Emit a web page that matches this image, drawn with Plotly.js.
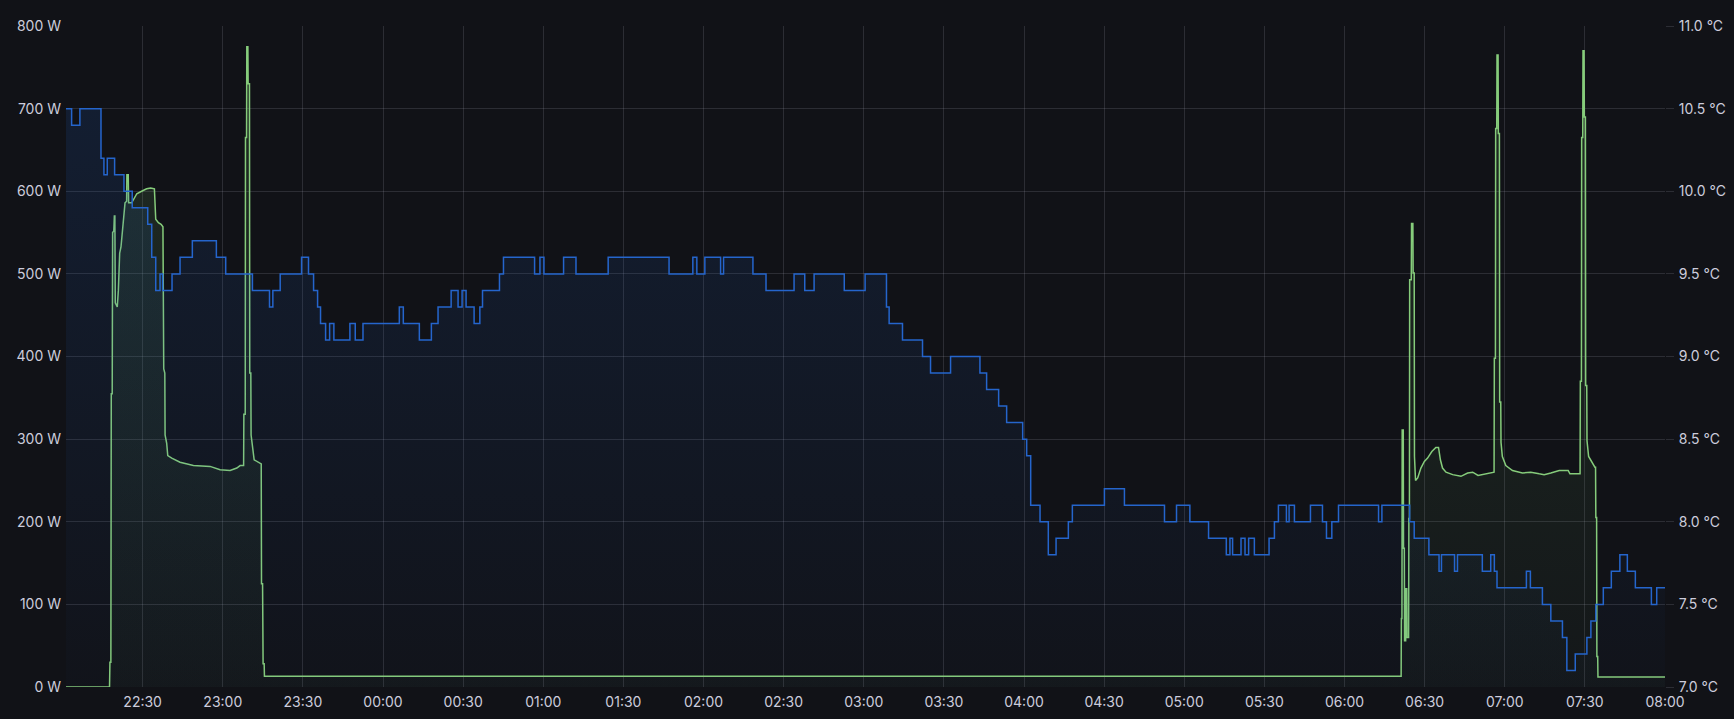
<!DOCTYPE html>
<html>
<head>
<meta charset="utf-8">
<script src="https://cdn.plot.ly/plotly-3.0.1.min.js"></script>
<style>
  html, body { margin: 0; padding: 0; background: #111217; }
  #chart { width: 1734px; height: 719px; }
</style>
</head>
<body>
<div id="chart"></div>
<script>
// Time is given as minutes after 22:00 of the first evening
const rangeStartMin = 1.3;
const rangeEndMin = 600;

// Temperature (°C, right axis) — step series
const tempMinutes = [1.3, 3.4, 6.5, 14.4, 15.5, 16.75, 19.5, 23, 26.1, 31.9, 33.4, 34.9, 36.5, 37.5, 41, 44, 48.6, 57.6, 61.1, 71.1, 77.5, 78.75, 81.5, 89.5, 92.1, 94, 95.5, 96.6, 98.5, 100, 101.6, 107.6, 109.6, 112.5, 126.1, 127.6, 133.6, 138.1, 140.6, 145.5, 148.1, 149.6, 151.1, 154.1, 156.25, 157.25, 163.6, 165.1, 176.75, 178.75, 180.25, 187.6, 192.25, 204.3, 227.1, 236, 237.5, 240.5, 246.4, 247.5, 258.5, 263.4, 273.9, 277.9, 281.4, 292.7, 300.5, 308.5, 309.5, 314.5, 322, 325, 332.5, 343.5, 346, 350.5, 353.5, 359.5, 361, 362.5, 366, 369.1, 372, 376.6, 378.1, 390.1, 397.6, 412.6, 417.1, 422.1, 429.1, 435.75, 437.1, 438.1, 441.25, 442.75, 444.1, 446.25, 451.75, 453.75, 455.25, 458.25, 459.25, 461.25, 467.25, 471.75, 473.25, 475.25, 477.75, 492.75, 494.0, 504.4, 506.1, 511.6, 515.4, 516.3, 521.2, 522.3, 531.6, 534.75, 536.1, 537.1, 548.1, 549.6, 554.1, 557.25, 561.6, 563.25, 566.4, 570.75, 572.25, 574.1, 576.9, 579.9, 583.1, 585.9, 588.9, 594.9, 596.9, 600];
const tempValues = [10.5, 10.4, 10.5, 10.2, 10.1, 10.2, 10.1, 10.0, 9.9, 9.8, 9.6, 9.4, 9.5, 9.4, 9.5, 9.6, 9.7, 9.6, 9.5, 9.4, 9.3, 9.4, 9.5, 9.6, 9.5, 9.4, 9.3, 9.2, 9.1, 9.2, 9.1, 9.2, 9.1, 9.2, 9.3, 9.2, 9.1, 9.2, 9.3, 9.4, 9.3, 9.4, 9.3, 9.2, 9.3, 9.4, 9.5, 9.6, 9.5, 9.6, 9.5, 9.6, 9.5, 9.6, 9.5, 9.6, 9.5, 9.6, 9.5, 9.6, 9.5, 9.4, 9.5, 9.4, 9.5, 9.4, 9.5, 9.3, 9.2, 9.1, 9.0, 8.9, 9.0, 8.9, 8.8, 8.7, 8.6, 8.5, 8.4, 8.1, 8.0, 7.8, 7.9, 8.0, 8.1, 8.2, 8.1, 8.0, 8.1, 8.0, 7.9, 7.8, 7.9, 7.8, 7.9, 7.8, 7.9, 7.8, 7.9, 8.0, 8.1, 8.0, 8.1, 8.0, 8.1, 8.0, 7.9, 8.0, 8.1, 8.0, 8.1, 8.0, 7.9, 7.8, 7.7, 7.8, 7.7, 7.8, 7.7, 7.8, 7.7, 7.6, 7.7, 7.6, 7.5, 7.4, 7.3, 7.1, 7.2, 7.3, 7.4, 7.5, 7.6, 7.7, 7.8, 7.7, 7.6, 7.5, 7.6, 7.6];

// Power (W, left axis)
const powerMinutes = [1.3, 17.6, 17.75, 18.1, 18.25, 18.6, 18.75, 19.2, 19.4, 19.6, 19.75, 20.5, 20.9, 21.4, 21.9, 22.4, 22.9, 23.4, 24.0, 24.1, 24.6, 24.75, 25.9, 26.5, 27.8, 29.6, 31.5, 33.0, 34.4, 34.9, 35.9, 36.9, 37.6, 37.9, 38.3, 38.4, 39.0, 39.4, 40.9, 44, 49, 55.25, 59, 62.75, 65.25, 66.5, 67.8, 67.9, 68.4, 68.5, 68.9, 69.0, 69.4, 69.5, 70.0, 70.1, 70.5, 70.6, 71.1, 71.75, 74.4, 74.5, 74.9, 75.1, 75.5, 75.6, 150, 250, 350, 450, 501.2, 501.3, 501.5, 501.6, 502.0, 502.1, 502.4, 502.5, 502.9, 503.0, 503.3, 503.4, 504.0, 504.1, 504.3, 504.4, 505.0, 505.1, 505.6, 505.7, 506.1, 506.2, 506.6, 507.4, 508.6, 509.9, 511.1, 512.7, 514.2, 515.2, 515.9, 516.7, 518, 520.5, 523.6, 526.1, 528, 530, 532.9, 535.4, 536.0, 536.1, 536.5, 536.6, 537.0, 537.1, 537.5, 537.6, 538.0, 538.1, 538.5, 538.6, 539.1, 540.4, 542.9, 546.6, 549.75, 552.9, 554.75, 557.25, 560.4, 563.75, 564.4, 568.2, 568.3, 568.7, 568.8, 569.2, 569.3, 569.7, 569.8, 570.2, 570.3, 570.7, 570.8, 571.4, 572.9, 573.75, 574.0, 574.1, 574.4, 574.5, 574.8, 574.9, 600];
const powerValues = [0, 0, 30, 30, 355, 355, 550, 552, 570, 570, 465, 460, 480, 525, 533, 552, 570, 586, 588, 620, 620, 586, 586, 590, 597, 600, 603, 604, 603, 566, 562, 560, 557, 385, 380, 305, 295, 280, 277, 272, 268, 267, 263, 262, 265, 268, 268, 330, 330, 665, 665, 775, 775, 730, 730, 380, 380, 305, 290, 275, 270, 125, 125, 28, 28, 13, 13, 13, 13, 13, 13, 83, 83, 311, 311, 168, 168, 56, 56, 119, 119, 60, 60, 204, 204, 493, 493, 561, 561, 501, 501, 279, 250, 253, 265, 273, 277, 285, 290, 290, 275, 265, 260, 257, 255, 259, 260, 256, 258, 260, 260, 398, 398, 676, 676, 765, 765, 670, 670, 345, 345, 296, 279, 268, 262, 259, 260, 258, 257, 259, 262, 262, 258, 258, 370, 370, 665, 665, 770, 770, 690, 690, 365, 365, 298, 279, 270, 266, 266, 205, 205, 37, 37, 12, 12];

const powerTicks = [0, 100, 200, 300, 400, 500, 600, 700, 800];
const tempTicks = [7.0, 7.5, 8.0, 8.5, 9.0, 9.5, 10.0, 10.5, 11.0];

const BASE = Date.UTC(2023, 0, 1, 22, 0, 0);
function toDate(m) {
  const d = new Date(BASE + Math.round(m * 60000));
  const p = n => String(n).padStart(2, '0');
  return d.getUTCFullYear() + '-' + p(d.getUTCMonth() + 1) + '-' + p(d.getUTCDate()) + ' ' +
         p(d.getUTCHours()) + ':' + p(d.getUTCMinutes()) + ':' + p(d.getUTCSeconds());
}

const textColor = 'rgb(204,204,220)';
const gridColor = 'rgba(204,204,220,0.15)';
const tickFont = { family: 'Inter, "Open Sans", sans-serif', size: 14, color: textColor };

const tempTrace = {
  x: tempMinutes.map(toDate),
  y: tempValues,
  yaxis: 'y2',
  type: 'scatter',
  mode: 'lines',
  line: { color: '#2565CC', width: 1.5, shape: 'hv' },
  fill: 'tozeroy',
  fillgradient: {
    type: 'vertical',
    start: 7, stop: 11,
    colorscale: [[0, 'rgba(31,96,196,0.02)'], [1, 'rgba(31,96,196,0.17)']]
  },
  hoverinfo: 'skip'
};

const powerTrace = {
  x: powerMinutes.map(toDate),
  y: powerValues,
  yaxis: 'y',
  type: 'scatter',
  mode: 'lines',
  line: { color: '#86CC7B', width: 1.5 },
  fill: 'tozeroy',
  fillgradient: {
    type: 'vertical',
    start: 0, stop: 800,
    colorscale: [[0, 'rgba(115,191,105,0.03)'], [1, 'rgba(115,191,105,0.16)']]
  },
  hoverinfo: 'skip'
};

const layout = {
  width: 1734,
  height: 719,
  paper_bgcolor: '#111217',
  plot_bgcolor: '#111217',
  margin: { l: 66, r: 69, t: 26, b: 32, pad: 0 },
  showlegend: false,
  font: { family: 'Inter, "Open Sans", sans-serif', size: 14, color: textColor },
  xaxis: {
    type: 'date',
    range: [toDate(rangeStartMin), toDate(rangeEndMin)],
    tick0: toDate(30),
    dtick: 1800000,
    tickformat: '%H:%M',
    showgrid: true,
    gridcolor: gridColor,
    gridwidth: 1,
    zeroline: false,
    showline: false,
    ticks: '',
    ticklabelstandoff: 5,
    tickfont: tickFont
  },
  yaxis: {
    range: [0, 800],
    tickvals: powerTicks,
    ticktext: powerTicks.map(v => v + ' W'),
    showgrid: true,
    gridcolor: gridColor,
    gridwidth: 1,
    zeroline: false,
    showline: false,
    ticks: '',
    ticklabelstandoff: 4,
    tickfont: tickFont
  },
  yaxis2: {
    range: [7, 11],
    overlaying: 'y',
    side: 'right',
    tickvals: tempTicks,
    ticktext: tempTicks.map(v => v.toFixed(1) + ' °C'),
    showgrid: false,
    zeroline: false,
    showline: false,
    ticks: 'outside',
    ticklen: 8,
    tickcolor: gridColor,
    tickwidth: 1,
    ticklabelstandoff: 2,
    tickfont: tickFont
  }
};

Plotly.newPlot('chart', [tempTrace, powerTrace], layout, { displayModeBar: false, staticPlot: true });
</script>
</body>
</html>
